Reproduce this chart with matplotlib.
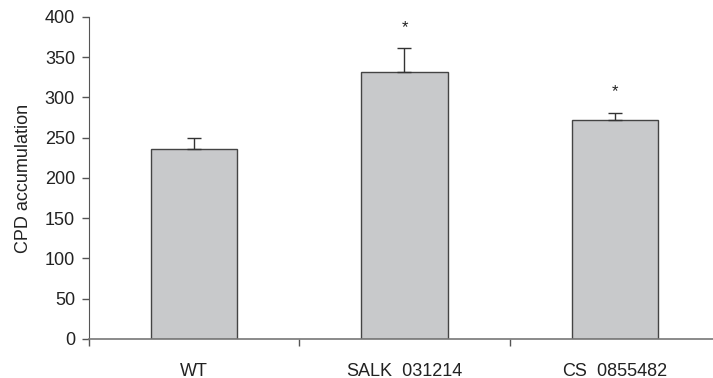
import numpy as np
import matplotlib.pyplot as plt

plt.rcParams['font.family'] = ['Liberation Sans', 'DejaVu Sans']

# valores
lines = ['WT', 'SALK_031214', 'CS_0855482']
cpd = [236, 331, 272]
erro = [14, 30, 9]
signif = ['', '*', '*']
yticks = [0, 50, 100, 150, 200, 250, 300, 350, 400]

fig = plt.figure(figsize=(7.13, 3.78), dpi=100)
ax = fig.add_axes([0.1248, 0.1032, 0.885, 0.852])

x = np.arange(len(lines))
ax.bar(x, cpd, width=0.41, color='#c8c9cb', edgecolor='#444444', linewidth=1.0, zorder=2)
ax.errorbar(x, cpd, yerr=[np.zeros(len(erro)), erro], fmt='none',
            ecolor='#333333', elinewidth=1.0, capsize=5, capthick=1.0, zorder=3)

for xi, yi, e, s in zip(x, cpd, erro, signif):
    if s:
        ax.text(xi, yi + e + 26, s, ha='center', va='center', fontsize=12, color='#222222')

ax.set_xlim(-0.5, 2.5)
ax.set_ylim(0, 400)
ax.set_yticks(yticks)
ax.set_xticks(x)
ax.set_xticklabels(lines)
ax.set_xticks(np.arange(-0.5, 2.5, 1.0), minor=True)
ax.tick_params(axis='x', which='major', length=0, pad=17, labelsize=13)
ax.tick_params(axis='x', which='minor', length=5, width=1, color='#555555', direction='out')
ax.tick_params(axis='y', length=5, width=1, color='#555555', labelsize=13, pad=5)
for t in ax.get_yticklabels():
    t.set_color('#222222')
for t in ax.get_xticklabels():
    t.set_color('#222222')

ax.spines['top'].set_visible(False)
ax.spines['right'].set_visible(False)
ax.spines['left'].set_color('#555555')
ax.spines['bottom'].set_color('#777777')
ax.spines['bottom'].set_linewidth(1.2)

ax.set_ylabel('CPD accumulation', fontsize=13, color='#222222', labelpad=9)

fig.savefig('out.png', dpi=100)
